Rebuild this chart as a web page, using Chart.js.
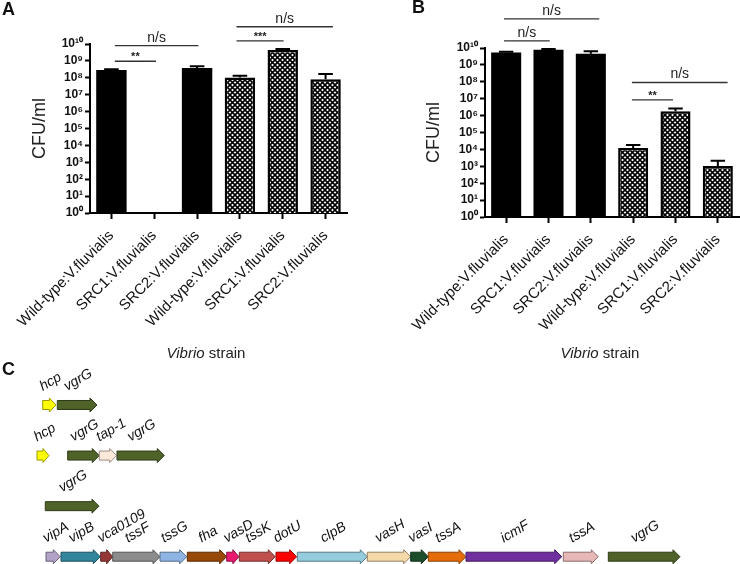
<!DOCTYPE html>
<html><head><meta charset="utf-8">
<script src="https://cdn.jsdelivr.net/npm/chart.js@4.4.1/dist/chart.umd.min.js"></script>
<style>
html,body{margin:0;padding:0;background:#fff;}
#fig{position:relative;width:740px;height:564px;overflow:hidden;font-family:"Liberation Sans",Arial,sans-serif;background:#fff;}
canvas{position:absolute;}
.pl{position:absolute;font-weight:bold;font-size:18px;color:#111;line-height:18px;}
.xt{position:absolute;font-size:15px;color:#222;white-space:nowrap;transform:translateX(-50%);line-height:16px;}
</style></head><body>
<div id="fig">
  <canvas id="cA" width="370" height="340" style="left:0;top:0"></canvas>
  <canvas id="cB" width="370" height="340" style="left:370px;top:0"></canvas>
  <canvas id="cC" width="740" height="224" style="left:0;top:340px"></canvas>
  <div class="pl" style="left:2px;top:0px">A</div>
  <div class="pl" style="left:412px;top:-2px">B</div>
  <div class="pl" style="left:2px;top:360px">C</div>
  <div class="xt" style="left:206px;top:345px"><i>Vibrio</i> strain</div>
  <div class="xt" style="left:600px;top:345px"><i>Vibrio</i> strain</div>
</div>
<script>
// ---------- data ----------
const categories = ['Wild-type:V.fluvialis','SRC1:V.fluvialis','SRC2:V.fluvialis','Wild-type:V.fluvialis','SRC1:V.fluvialis','SRC2:V.fluvialis'];
const cfuA      = [2.9e8, null, 3.8e8, 1.05e8, 4.4e9, 8.2e7];
const cfuAUpper = [3.2e8, null, 4.8e8, 1.3e8,  5.0e9, 1.65e8];
const cfuB      = [5.5e9, 8.0e9, 4.5e9, 1.2e4, 1.8e6, 1.05e3];
const cfuBUpper = [5.9e9, 8.6e9, 6.5e9, 1.8e4, 2.6e6, 2.1e3];
const tickExponents = [0,1,2,3,4,5,6,7,8,9,10];
// significance comparisons: category indices and level (log10 CFU/ml)
const sigA = [
  {from:0.08, to:2.03, level:9.90, text:'n/s'},
  {from:0.08, to:1.04, level:8.98, text:'**'},
  {from:2.92, to:5.17, level:11.02, text:'n/s'},
  {from:2.92, to:4.02, level:10.19, text:'***'}
];
const sigB = [
  {from:-0.05, to:2.2, level:11.72, text:'n/s'},
  {from:-0.05, to:1.03, level:10.42, text:'n/s'},
  {from:2.97, to:5.23, level:7.96, text:'n/s'},
  {from:2.97, to:3.94, level:6.93, text:'**'}
];
// gene map (panel C)
const geneName  = ['hcp','vgrG', 'hcp','vgrG','tap-1','vgrG', 'vgrG',
  'vipA','vipB','vca0109','tssF','tssG','fha','vasD','tssK','dotU','clpB','vasH','vasI','tssA','icmF','tssA','vgrG'];
const geneRow   = [1,1, 2,2,2,2, 3, 4,4,4,4,4,4,4,4,4,4,4,4,4,4,4,4];
const geneStart = [42.7,57.3, 37,67.7,99.3,117, 45.3,
  46,61,100.7,112.7,160,187.3,226.7,239.3,276,297.3,367.3,410.7,428.3,466,563.3,608.3];
const geneEnd   = [56,97, 49,99.3,116.7,164.3, 99,
  60.3,100.3,112.7,160,186.7,226.7,239,275.3,296.7,367.3,410.7,428.3,466,561.7,598.3,680];

// ---------- styles ----------
const geneFill = ['#ffff00','#4f6228', '#ffff00','#4f6228','#fde9d9','#4f6228', '#4f6228',
  '#b3a2c7','#31859c','#953735','#8c8c8c','#8eb4e3','#984807','#e8196f','#c0504d','#ff0000','#93cddd','#f5d9a8','#1d4d2a','#e46c0a','#7030a0','#e6b9b8','#4f6228'];
const FONT = '"Liberation Sans", Arial, sans-serif';
Chart.defaults.font.family = FONT;

function makeHatch(){
  const s=5, c=document.createElement('canvas'); c.width=c.height=s;
  const x=c.getContext('2d');
  x.fillStyle='#fff'; x.fillRect(0,0,s,s);
  x.strokeStyle='#000'; x.lineWidth=1.6;
  x.beginPath(); x.moveTo(0,0); x.lineTo(s,s); x.moveTo(s,0); x.lineTo(0,s); x.stroke();
  return x.createPattern(c,'repeat');
}
const hatch = makeHatch();
const SUP = '⁰¹²³⁴⁵⁶⁷⁸⁹';
const sup = n => String(n).split('').map(d=>SUP[+d]).join('');

function errPlugin(upper){
  return {id:'err', afterDatasetsDraw(chart){
    const ctx=chart.ctx, ys=chart.scales.y, meta=chart.getDatasetMeta(0);
    ctx.save(); ctx.strokeStyle='#000'; ctx.lineWidth=2;
    meta.data.forEach((el,i)=>{
      if(upper[i]==null) return;
      const yT=ys.getPixelForValue(upper[i]); const hw=el.width*0.24;
      ctx.beginPath(); ctx.moveTo(el.x,el.y); ctx.lineTo(el.x,yT);
      ctx.moveTo(el.x-hw,yT); ctx.lineTo(el.x+hw,yT); ctx.stroke();
    });
    ctx.restore();
  }};
}
function sigPlugin(list){
  return {id:'sig', afterDraw(chart){
    const ctx=chart.ctx, xs=chart.scales.x, ys=chart.scales.y;
    ctx.save();
    list.forEach(b=>{
      const x1=xs.getPixelForValue(b.from), x2=xs.getPixelForValue(b.to), y=ys.getPixelForValue(Math.pow(10,b.level));
      ctx.strokeStyle='#333'; ctx.lineWidth=1.3;
      ctx.beginPath(); ctx.moveTo(x1,y); ctx.lineTo(x2,y); ctx.stroke();
      ctx.fillStyle='#222'; ctx.textAlign='center'; ctx.textBaseline='alphabetic';
      if(b.text==='n/s'){ ctx.font='14px '+FONT; ctx.fillText(b.text,(x1+x2)/2,y-4); }
      else { ctx.font='bold 11px '+FONT; ctx.fillText(b.text,(x1+x2)/2,y-1); }
    });
    ctx.restore();
  }};
}

function barChart(id, values, upper, sig, pad, yWidth, xHeight){
  return new Chart(document.getElementById(id), {
    type:'bar',
    data:{labels:categories, datasets:[{
      data:values,
      backgroundColor:[ '#000','#000','#000',hatch,hatch,hatch ],
      borderColor:'#000', borderWidth:[0,0,0,2.5,2.5,2.5],
      barPercentage:0.71, categoryPercentage:1
    }]},
    options:{
      responsive:false, animation:false,
      layout:{padding:pad},
      plugins:{legend:{display:false}, tooltip:{enabled:false}},
      scales:{
        x:{
          grid:{display:true, offset:false, drawOnChartArea:false, tickLength:6, tickWidth:2, tickColor:'#000'},
          border:{display:true, color:'#000', width:2},
          ticks:{minRotation:45, maxRotation:45, autoSkip:false, font:{size:15}, color:'#111', padding:8},
          afterFit(s){ s.height = xHeight; }
        },
        y:{
          type:'logarithmic', min:1, max:1e10,
          afterBuildTicks(s){ s.ticks = tickExponents.map(e=>({value:Math.pow(10,e)})); },
          ticks:{callback:v=>'10'+sup(Math.round(Math.log10(v))), font:{size:12, weight:'bold'}, color:'#111', padding:2, autoSkip:false},
          grid:{display:true, drawOnChartArea:false, tickLength:5, tickWidth:2, tickColor:'#000'},
          border:{display:true, color:'#000', width:2},
          title:{display:true, text:'CFU/ml', font:{size:18}, color:'#222', padding:0},
          afterFit(s){ s.width = yWidth; }
        }
      }
    },
    plugins:[errPlugin(upper), sigPlugin(sig)]
  });
}
barChart('cA', cfuA, cfuAUpper, sigA, {left:29, top:44, right:23, bottom:0}, 61, 127);
barChart('cB', cfuB, cfuBUpper, sigB, {left:53, top:48, right:1, bottom:0}, 62, 123);

// ---------- panel C gene map ----------
function shade(hex, f){
  const n=parseInt(hex.slice(1),16); const r=(n>>16)&255,g=(n>>8)&255,b=n&255;
  return 'rgb('+Math.round(r*f)+','+Math.round(g*f)+','+Math.round(b*f)+')';
}
const arrowPlugin = {id:'arrows', afterDatasetsDraw(chart){
  const ctx=chart.ctx, meta=chart.getDatasetMeta(0);
  ctx.save();
  meta.data.forEach((el,i)=>{
    const s=el.base, e=el.x, y=el.y, len=e-s;
    const hl=Math.min(7, len*0.5), sh=4.5, hh=7;
    ctx.beginPath();
    ctx.moveTo(s,y-sh); ctx.lineTo(e-hl,y-sh); ctx.lineTo(e-hl,y-hh); ctx.lineTo(e,y);
    ctx.lineTo(e-hl,y+hh); ctx.lineTo(e-hl,y+sh); ctx.lineTo(s,y+sh); ctx.closePath();
    ctx.fillStyle=geneFill[i]; ctx.fill();
    ctx.strokeStyle=shade(geneFill[i],0.6); ctx.lineWidth=1; ctx.stroke();
    // label
    ctx.font='italic 14px '+FONT;
    const w=ctx.measureText(geneName[i]).width, c=Math.cos(Math.PI/6);
    const x0=Math.max(s, (s+e)/2 - w*c/2 + 3);
    ctx.save(); ctx.translate(x0, y-14); ctx.rotate(-Math.PI/6);
    ctx.fillStyle='#111'; ctx.textAlign='left'; ctx.textBaseline='alphabetic';
    ctx.fillText(geneName[i],0,0); ctx.restore();
  });
  ctx.restore();
}};
new Chart(document.getElementById('cC'), {
  type:'bar',
  data:{datasets:[{
    data: geneName.map((n,i)=>({y:geneRow[i], x:[geneStart[i], geneEnd[i]]})),
    backgroundColor:'rgba(0,0,0,0)', borderWidth:0, barThickness:14
  }]},
  options:{
    indexAxis:'y', responsive:false, animation:false,
    layout:{padding:0},
    plugins:{legend:{display:false}, tooltip:{enabled:false}},
    scales:{
      x:{type:'linear', min:0, max:740, display:false, offset:false},
      y:{type:'linear', min:-0.285, max:4.144, reverse:true, display:false, offset:false, grid:{offset:false}}
    }
  },
  plugins:[arrowPlugin]
});
</script>
</body></html>
